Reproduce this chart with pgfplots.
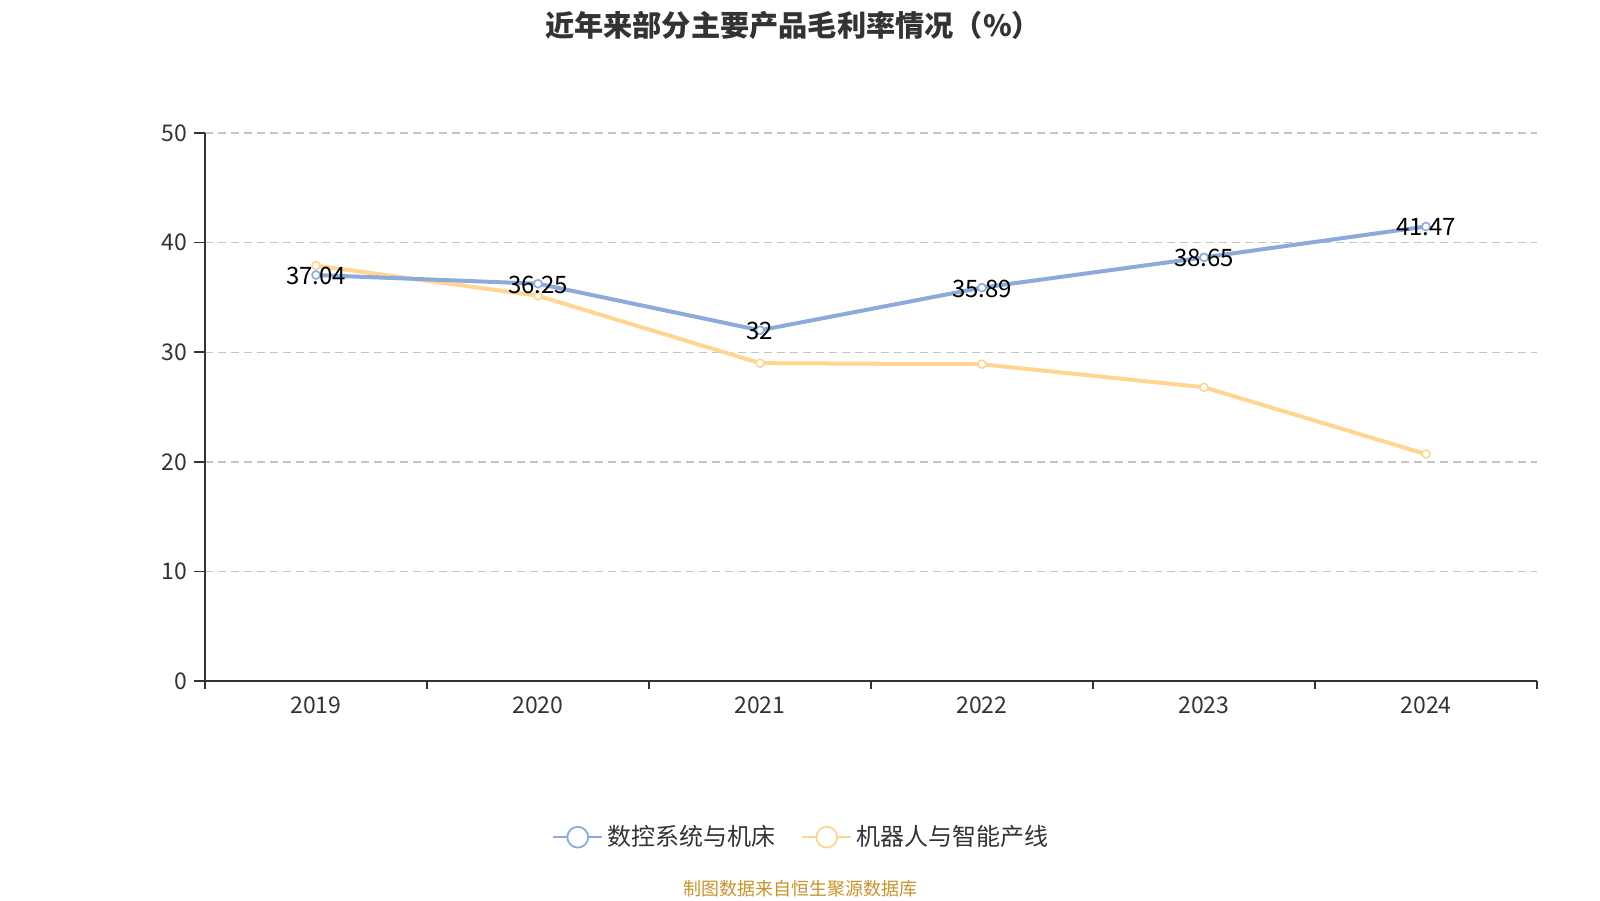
\documentclass[border=0pt]{standalone}
\usepackage{fontspec}
\setmainfont{Noto Sans CJK SC}
\usepackage{pgfplots}
\pgfplotsset{compat=1.18}
\definecolor{cblue}{HTML}{8CAADB}
\definecolor{cyellow}{HTML}{FFD591}
\definecolor{txt}{HTML}{333333}
\definecolor{src}{HTML}{C8922A}
\definecolor{gridc}{HTML}{C4C4C4}
\pgfplotstableread{
x blue yellow
0 37.04 37.9
1 36.25 35.15
2 32 29.0
3 35.89 28.9
4 38.65 26.8
5 41.47 20.7
}\datatable
\begin{document}
\begin{tikzpicture}
\path[use as bounding box] (-102.5pt,-109.5pt) rectangle (697.5pt,340.5pt);
\begin{axis}[
  at={(0pt,0pt)}, anchor=south west,
  scale only axis, width=666pt, height=274pt,
  xmin=-0.5, xmax=5.5, ymin=0, ymax=50,
  axis x line*=bottom, axis y line*=left,
  axis line style={txt, line width=0.75pt, -},
  xtick={0,...,5}, xticklabels={2019,2020,2021,2022,2023,2024},
  minor xtick={-0.5,0.5,...,5.5},
  ytick={0,10,...,50},
  tick align=outside,
  major tick length=5.5pt, minor tick length=4pt,
  tick style={txt, line width=0.75pt},
  every major x tick/.append style={draw=none},
  ymajorgrids, xmajorgrids=false,
  grid style={gridc, dash pattern=on 4pt off 2.5pt, line width=0.7pt},
  ticklabel style={font=\fontsize{11.5}{13}\selectfont, color=txt},
  xticklabel style={anchor=center, yshift=-6.5pt},
  /pgf/number format/assume math mode=true,
  clip=false,
  legend style={at={(axis description cs:0.4484,-0.285)}, anchor=center, draw=none, fill=none,
    font=\fontsize{12}{14}\selectfont, text=txt, legend columns=2,
    /tikz/every even column/.append style={column sep=11pt}},
  legend cell align=left,
]
\addplot[cyellow, line width=2pt, mark=*, mark size=2pt,
  mark options={fill=white, draw=cyellow, line width=0.8pt},
  forget plot] table[x=x, y=yellow] {\datatable};
\addplot[cblue, line width=2pt, mark=*, mark size=2pt,
  mark options={fill=white, draw=cblue, line width=0.8pt},
  legend image code/.code={\draw[cblue, line width=1pt] (-2pt,0pt) -- (22.5pt,0pt);
    \draw[cblue, fill=white, line width=0.9pt] (10.25pt,0pt) circle (5.2pt);}]
  table[x=x, y=blue] {\datatable};
\addlegendentry{数控系统与机床}
\addplot[cyellow, line width=1pt, draw=none,
  legend image code/.code={\draw[cyellow, line width=1pt] (-2pt,0pt) -- (22.5pt,0pt);
    \draw[cyellow, fill=white, line width=0.9pt] (10.25pt,0pt) circle (5.2pt);}]
  coordinates {(0,-10)};
\addlegendentry{机器人与智能产线}
\addplot[draw=none, mark=none, forget plot,
  nodes near coords, point meta=y,
  nodes near coords align=center,
  every node near coord/.append style={font=\fontsize{12}{14}\selectfont, text=black, yshift=-0.5pt,
    /pgf/number format/assume math mode=true}]
  table[x=x, y=blue] {\datatable};
\end{axis}
\node[font=\bfseries\fontsize{14.6}{17}\selectfont, text=txt] at (294pt,328pt) {近年来部分主要产品毛利率情况（\%）};
\node[font=\fontsize{9}{11}\selectfont, text=src] at (297.5pt,-104pt) {制图数据来自恒生聚源数据库};
\end{tikzpicture}
\end{document}
